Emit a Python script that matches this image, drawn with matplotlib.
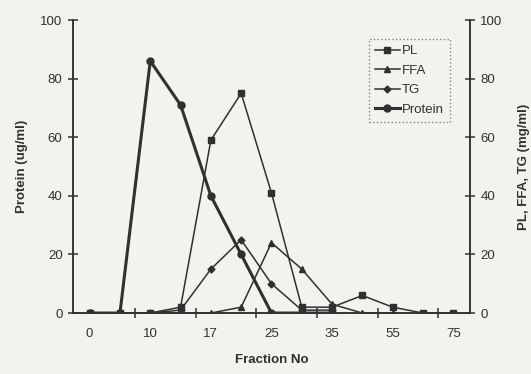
import matplotlib.pyplot as plt
import numpy as np

plt.rcParams['font.family'] = ['Liberation Sans', 'DejaVu Sans']

# Data
fractions = ['0', '', '10', '', '17', '', '25', '', '35', '', '55', '', '75']
protein = [0, 0, 86, 71, 40, 20, 0, 0, 0]
pl = [0, 0, 0, 2, 59, 75, 41, 2, 2, 6, 2, 0, 0]
ffa = [0, 0, 0, 0, 0, 2, 24, 15, 3, 0, 0]
tg = [0, 0, 0, 1, 15, 25, 10, 1, 1]

ink = '#303030'
bg = '#f3f2ee'

fig = plt.figure(figsize=(5.31, 3.74), dpi=100, facecolor=bg)
ax = fig.add_axes([0.1375, 0.163, 0.7475, 0.7835])
ax.set_facecolor(bg)
ax2 = ax.twinx()

ax.plot(np.arange(len(protein)), protein, color=ink, lw=2.2, marker='o', ms=5, label='Protein', zorder=5)
ax2.plot(np.arange(len(pl)), pl, color=ink, lw=1.1, marker='s', ms=5, label='PL')
ax2.plot(np.arange(len(ffa)), ffa, color=ink, lw=1.1, marker='^', ms=5, label='FFA')
ax2.plot(np.arange(len(tg)), tg, color=ink, lw=1.1, marker='D', ms=3.5, label='TG')

for a in (ax, ax2):
    a.set_xlim(-0.55, 12.55)
    a.set_ylim(0, 100)
    a.set_yticks([0, 20, 40, 60, 80, 100])
    a.spines['top'].set_visible(False)
    for s in a.spines.values():
        s.set_color(ink)
        s.set_linewidth(1.1)
    a.tick_params(axis='y', direction='inout', length=7, width=1.1, color=ink,
                  labelsize=9.5, labelcolor=ink, pad=4)

ax.set_xticks(np.arange(len(fractions)))
ax.set_xticklabels(fractions)
ax.set_xticks(np.arange(1.5, 12, 2), minor=True)
ax.tick_params(axis='x', which='major', length=0, labelsize=9.5, labelcolor=ink, pad=11)
ax.tick_params(axis='x', which='minor', direction='inout', length=7, width=1.1, color=ink)

ax.set_xlabel('Fraction No', fontsize=9.5, fontweight='bold', color=ink, labelpad=10)
ax.set_ylabel('Protein (ug/ml)', fontsize=9.5, fontweight='bold', color=ink, labelpad=9)
ax2.set_ylabel('PL, FFA, TG (mg/ml)', fontsize=9.5, fontweight='bold', color=ink, labelpad=11)

h2, l2 = ax2.get_legend_handles_labels()
h1, l1 = ax.get_legend_handles_labels()
leg = ax2.legend(h2 + h1, l2 + l1, loc='upper left', bbox_to_anchor=(0.745, 0.935),
                 fontsize=9.5, frameon=True, fancybox=False, handlelength=1.9,
                 handletextpad=0.15, borderpad=0.45, labelspacing=0.55,
                 labelcolor=ink, borderaxespad=0)
leg.get_frame().set_edgecolor('#666666')
leg.get_frame().set_linestyle(':')
leg.get_frame().set_facecolor(bg)
leg.get_frame().set_linewidth(1.0)

plt.savefig('out.png', dpi=100, facecolor=bg)
